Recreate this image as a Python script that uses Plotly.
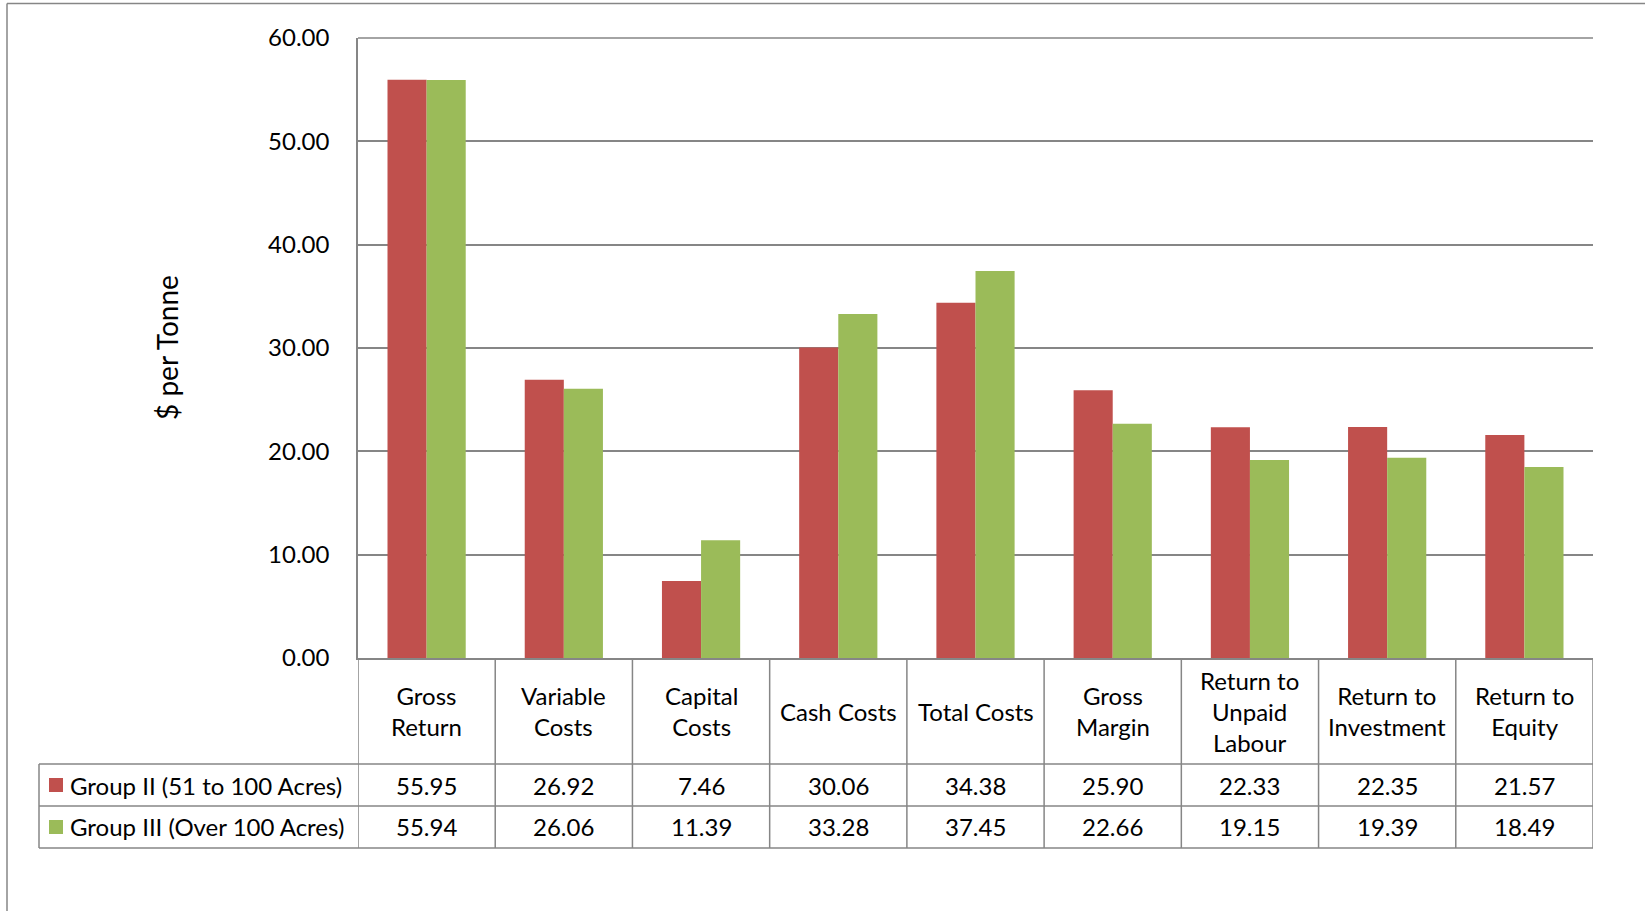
import plotly.graph_objects as go

# ---- data ----
categories = ["Gross Return", "Variable Costs", "Capital Costs", "Cash Costs", "Total Costs",
              "Gross Margin", "Return to Unpaid Labour", "Return to Investment", "Return to Equity"]
header_labels = ["Gross<br>Return", "Variable<br>Costs", "Capital<br>Costs", "Cash Costs", "Total Costs",
                 "Gross<br>Margin", "Return to<br>Unpaid<br>Labour", "Return to<br>Investment", "Return to<br>Equity"]
series_names = ["Group II (51 to 100 Acres)", "Group III (Over 100 Acres)"]
group2 = [55.95, 26.92, 7.46, 30.06, 34.38, 25.90, 22.33, 22.35, 21.57]
group3 = [55.94, 26.06, 11.39, 33.28, 37.45, 22.66, 19.15, 19.39, 18.49]
y_ticks = [0, 10, 20, 30, 40, 50, 60]
y_title = "$ per Tonne"

colors = ["#C0504D", "#9BBB59"]
grid = "#868686"
FONT = "Lato"
FS = 24

W, H = 1645, 911
ML, MR, MT, MB = 358, 52, 38, 253
PW = W - ML - MR
PH = H - MT - MB


def px_x(px):
    return (px - ML) / PW


def px_y(py):
    return (H - MB - py) / PH


fig = go.Figure()
for name, vals, col in zip(series_names, [group2, group3], colors):
    fig.add_trace(go.Bar(x=categories, y=vals, name=name, marker=dict(color=col, line=dict(width=0))))

shapes = []
annotations = []
n = len(categories)

# top gridline (at axis maximum, top edge of plot area)
shapes.append(dict(type="line", xref="paper", yref="paper", x0=0, x1=1, y0=1, y1=1,
                   line=dict(color=grid, width=1.5)))

# table vertical lines at category boundaries
for i in range(n + 1):
    shapes.append(dict(type="line", xref="x", yref="paper", x0=i - 0.5, x1=i - 0.5,
                       y0=0, y1=px_y(848), line=dict(color=grid, width=1.5)))
# table horizontal lines
for py in [764, 806, 848]:
    shapes.append(dict(type="line", xref="paper", yref="paper", x0=px_x(39), x1=1,
                       y0=px_y(py), y1=px_y(py), line=dict(color=grid, width=1.5)))
# legend column left edge
shapes.append(dict(type="line", xref="paper", yref="paper", x0=px_x(39), x1=px_x(39),
                   y0=px_y(764), y1=px_y(848), line=dict(color=grid, width=1.5)))
# outer chart border (top & left)
shapes.append(dict(type="line", xref="paper", yref="paper", x0=px_x(7), x1=px_x(1660),
                   y0=px_y(3.5), y1=px_y(3.5), line=dict(color=grid, width=1.5)))
shapes.append(dict(type="line", xref="paper", yref="paper", x0=px_x(7), x1=px_x(7),
                   y0=px_y(3.5), y1=px_y(930), line=dict(color=grid, width=1.5)))

# header labels
for cat, lab in zip(categories, header_labels):
    annotations.append(dict(x=cat, xref="x", y=px_y(711), yref="paper", text=lab, showarrow=False,
                            xanchor="center", yanchor="middle", align="center",
                            font=dict(family=FONT, size=FS, color="#000")))

# value rows + legend keys
row_centers = [785, 827]
for name, vals, col, yc in zip(series_names, [group2, group3], colors, row_centers):
    for cat, v in zip(categories, vals):
        annotations.append(dict(x=cat, xref="x", y=px_y(yc), yref="paper", text=f"{v:.2f}",
                                showarrow=False, xanchor="center", yanchor="middle",
                                font=dict(family=FONT, size=FS, color="#000")))
    shapes.append(dict(type="rect", xref="paper", yref="paper", x0=px_x(49), x1=px_x(63),
                       y0=px_y(yc - 7), y1=px_y(yc + 7), fillcolor=col, line=dict(width=0)))
    annotations.append(dict(x=px_x(68), xref="paper", y=px_y(yc), yref="paper", text=name,
                            showarrow=False, xanchor="left", yanchor="middle",
                            font=dict(family=FONT, size=FS, color="#000")))

# y-axis title
annotations.append(dict(x=px_x(167), xref="paper", y=0.5, yref="paper", text=y_title,
                        textangle=-90, showarrow=False, xanchor="center", yanchor="middle",
                        font=dict(family=FONT, size=28, color="#000")))

fig.update_layout(
    width=W, height=H,
    margin=dict(l=ML, r=MR, t=MT, b=MB, pad=0),
    paper_bgcolor="white", plot_bgcolor="white",
    barmode="group", bargap=0.43, bargroupgap=0,
    showlegend=False,
    font=dict(family=FONT, size=FS, color="#000"),
    shapes=shapes, annotations=annotations,
    xaxis=dict(type="category", range=[-0.5, n - 0.5], showticklabels=False, ticks="",
               showgrid=False, showline=True, linecolor=grid, linewidth=1.5, zeroline=False),
    yaxis=dict(range=[0, 60], tickvals=y_ticks, tickformat=".2f", ticks="",
               showgrid=True, gridcolor=grid, gridwidth=1.5, showline=True, linecolor=grid,
               linewidth=1.5, zeroline=False, ticklabelstandoff=22,
               tickfont=dict(family=FONT, size=FS, color="#000")),
)

fig.write_html("out.html")
